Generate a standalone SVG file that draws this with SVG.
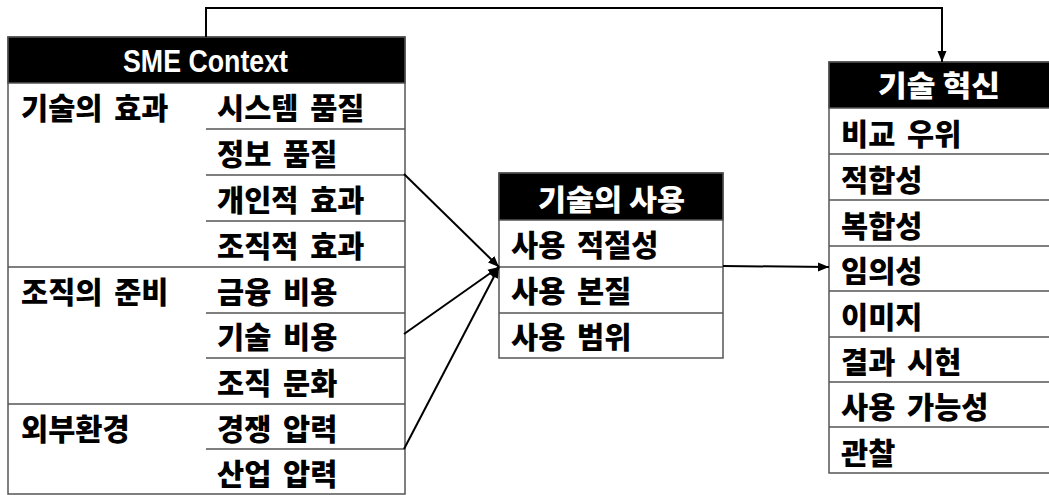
<svg xmlns="http://www.w3.org/2000/svg" width="1049" height="495" viewBox="0 0 1049 495">
<style>
.box{fill:#fff;stroke:#555;stroke-width:1.5}
.hdr{fill:#000;stroke:#555;stroke-width:1.5}
.sep{stroke:#555;stroke-width:1.5;fill:none}
.t{font-family:"Noto Sans CJK KR","Noto Sans",sans-serif;font-weight:900;font-size:29.5px;word-spacing:5px;fill:#000}
.h{font-family:"Noto Sans CJK KR","Noto Sans",sans-serif;font-weight:900;font-size:29px;fill:#fff}
.sme{font-family:"Liberation Sans Narrow","Liberation Sans",sans-serif;font-weight:bold;font-size:32px;fill:#fff}
.conn{stroke:#000;stroke-width:2;fill:none}
</style>
<defs>
<marker id="ah" markerUnits="userSpaceOnUse" markerWidth="12" markerHeight="10" refX="11" refY="5" orient="auto">
<path d="M0,0.5 L11,5 L0,9.5 Z" fill="#000"/>
</marker>
</defs>

<g id="sme-context">
<rect class="box" x="8" y="37" width="397" height="457"/>
<rect class="hdr" x="8" y="37" width="397" height="46"/>
<text class="sme" x="123" y="72" textLength="165" lengthAdjust="spacingAndGlyphs">SME Context</text>
<path class="sep" d="M206,129H405M206,175H405M206,221H405M8,267H405M206,313H405M206,358H405M8,404H405M206,449H405"/>
<text class="t" x="21" y="119">기술의 효과</text>
<text class="t" x="217" y="119">시스템 품질</text>
<text class="t" x="217" y="165">정보 품질</text>
<text class="t" x="217" y="211">개인적 효과</text>
<text class="t" x="217" y="257">조직적 효과</text>
<text class="t" x="21" y="303">조직의 준비</text>
<text class="t" x="217" y="303">금융 비용</text>
<text class="t" x="217" y="348">기술 비용</text>
<text class="t" x="217" y="394">조직 문화</text>
<text class="t" x="21" y="440">외부환경</text>
<text class="t" x="217" y="440">경쟁 압력</text>
<text class="t" x="217" y="485">산업 압력</text>
</g>

<g id="tech-use">
<rect class="box" x="499" y="173" width="224" height="185"/>
<rect class="hdr" x="499" y="173" width="224" height="47"/>
<text class="h" x="538" y="211" textLength="147" lengthAdjust="spacingAndGlyphs">기술의 사용</text>
<path class="sep" d="M499,267H723M499,313H723"/>
<text class="t" x="511" y="256">사용 적절성</text>
<text class="t" x="511" y="302">사용 본질</text>
<text class="t" x="511" y="348">사용 범위</text>
</g>

<g id="tech-innovation">
<rect class="box" x="829" y="62" width="240" height="411"/>
<rect class="hdr" x="829" y="62" width="240" height="46"/>
<text class="h" x="878" y="97" textLength="122" lengthAdjust="spacingAndGlyphs" font-size="31">기술 혁신</text>
<path class="sep" d="M829,154H1049M829,200H1049M829,246H1049M829,291H1049M829,337H1049M829,382H1049M829,427H1049"/>
<text class="t" x="841" y="145">비교 우위</text>
<text class="t" x="841" y="191">적합성</text>
<text class="t" x="841" y="237">복합성</text>
<text class="t" x="841" y="282">임의성</text>
<text class="t" x="841" y="328">이미지</text>
<text class="t" x="841" y="373">결과 시현</text>
<text class="t" x="841" y="418">사용 가능성</text>
<text class="t" x="841" y="464">관찰</text>
</g>

<g id="connectors">
<path class="conn" d="M206,37V8H942V62" marker-end="url(#ah)"/>
<path class="conn" d="M404,174L499,267" marker-end="url(#ah)"/>
<path class="conn" d="M404,334L499,267" marker-end="url(#ah)"/>
<path class="conn" d="M404,449L499,267" marker-end="url(#ah)"/>
<path class="conn" d="M723,266L829,267" marker-end="url(#ah)"/>
</g>
</svg>
